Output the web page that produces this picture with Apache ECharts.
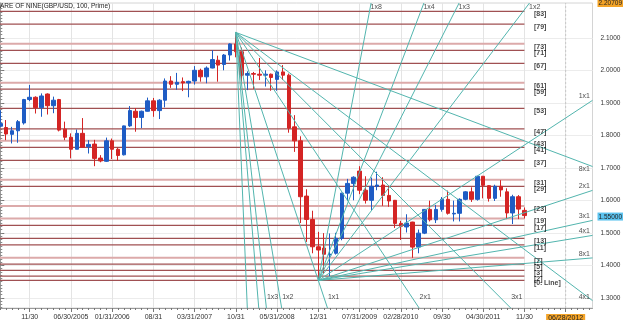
<!DOCTYPE html>
<html><head><meta charset="utf-8">
<script src="https://cdn.jsdelivr.net/npm/echarts@6/dist/echarts.min.js"></script>
<style>html,body{margin:0;padding:0;background:#fff}#c{width:625px;height:320px}</style>
</head><body><div id="c"></div>
<script>
// ---------------- data ----------------
const chartTitle = 'ARE OF NINE(GBP/USD, 100, Prime)';
const firstMonth = [2004, 6];      // bar dated 06/30/2004
const axisMonthCount = 101;         // axis runs to 10/2012
// monthly candles: [open, close, low, high]
const ohlc = [
[1.828,1.836,1.825,1.877],[1.824,1.804,1.785,1.847],[1.803,1.814,1.775,1.826],[1.814,1.842,1.777,1.847],
[1.838,1.910,1.833,1.912],[1.910,1.917,1.905,1.955],[1.917,1.885,1.867,1.920],[1.885,1.921,1.857,1.929],
[1.927,1.891,1.864,1.929],[1.891,1.908,1.868,1.919],[1.910,1.816,1.812,1.912],[1.819,1.794,1.785,1.842],
[1.794,1.757,1.729,1.806],[1.757,1.806,1.757,1.818],[1.806,1.763,1.762,1.853],[1.765,1.772,1.744,1.785],
[1.773,1.729,1.705,1.786],[1.730,1.721,1.717,1.739],[1.720,1.783,1.718,1.793],[1.783,1.757,1.727,1.790],
[1.757,1.738,1.721,1.762],[1.740,1.829,1.738,1.830],[1.829,1.876,1.826,1.890],[1.874,1.855,1.811,1.884],
[1.855,1.874,1.822,1.876],[1.874,1.906,1.873,1.916],[1.906,1.876,1.857,1.915],[1.876,1.908,1.850,1.911],
[1.908,1.967,1.886,1.975],[1.967,1.957,1.946,1.982],[1.957,1.963,1.940,1.992],[1.965,1.961,1.936,1.978],
[1.961,1.966,1.917,1.968],[1.967,2.000,1.956,2.013],[2.000,1.980,1.965,2.005],[1.980,2.007,1.960,2.012],
[2.007,2.033,2.006,2.062],[2.031,2.016,1.965,2.045],[2.018,2.047,2.000,2.050],[2.047,2.081,2.030,2.083],
[2.081,2.057,2.040,2.1166],[2.057,1.985,1.965,2.070],[1.985,1.990,1.939,1.997],[1.990,1.988,1.943,1.995],
[1.988,1.985,1.970,2.038],[1.985,1.988,1.950,2.000],[1.988,1.978,1.937,1.990],[1.972,1.995,1.937,2.000],
[1.995,1.985,1.970,2.016],[1.985,1.822,1.808,1.990],[1.826,1.783,1.749,1.862],[1.783,1.611,1.530,1.797],
[1.613,1.541,1.472,1.634],[1.541,1.457,1.437,1.568],[1.457,1.447,1.3535,1.503],[1.453,1.434,1.375,1.499],
[1.432,1.434,1.366,1.498],[1.437,1.483,1.433,1.500],[1.483,1.622,1.477,1.623],[1.622,1.652,1.599,1.666],
[1.652,1.671,1.600,1.674],[1.690,1.631,1.619,1.705],[1.631,1.600,1.590,1.674],[1.600,1.643,1.570,1.670],
[1.643,1.647,1.631,1.688],[1.647,1.615,1.583,1.671],[1.615,1.598,1.580,1.646],[1.600,1.529,1.515,1.601],
[1.529,1.520,1.478,1.537],[1.518,1.530,1.501,1.557],[1.533,1.456,1.423,1.534],[1.456,1.499,1.437,1.510],
[1.499,1.572,1.496,1.573],[1.572,1.540,1.535,1.599],[1.540,1.572,1.530,1.586],[1.572,1.603,1.565,1.610],
[1.603,1.560,1.556,1.630],[1.558,1.560,1.535,1.599],[1.560,1.603,1.535,1.606],[1.603,1.626,1.600,1.628],
[1.626,1.603,1.595,1.640],[1.603,1.674,1.599,1.675],[1.674,1.646,1.606,1.675],[1.645,1.606,1.596,1.647],
[1.606,1.643,1.598,1.648],[1.643,1.632,1.611,1.662],[1.626,1.561,1.542,1.637],[1.561,1.611,1.527,1.617],
[1.611,1.573,1.542,1.616],[1.569,1.553,1.544,1.578]
];
// x-axis tick labels (bar dates)
const tickMonths = ['2004-11','2005-06','2006-01','2006-08','2007-03','2007-10','2008-05','2008-12','2009-07','2010-02','2010-09','2011-04','2011-11'];
const tickLabels = ['11/30','06/30/2005','01/31/2006','08/31','03/31/2007','10/31','05/31/2008','12/31','07/31/2009','02/28/2010','09/30','04/30/2011','11/30'];
const cursorMonth = '2012-06';
const cursorLabel = '06/28/2012';
// y-axis
const yAxisMin = 1.26863, yAxisMax = 2.20709;
const yTickValues = [1.3,1.4,1.5,1.6,1.7,1.8,1.9,2.0,2.1];
const currentPrice = 1.55;
// square of nine levels
const levelNames = ['0. Line','2','3','5','7','11','13','17','19','23','29','31','37','41','43','47','53','59','61','67','71','73','79','83'];
const levelValues = [1.3535,1.3668,1.3843,1.4037,1.4231,1.4631,1.4828,1.5228,1.5443,1.5822,1.6428,1.6631,1.7228,1.7628,1.7831,1.8200,1.8828,1.9422,1.9615,2.0212,2.0612,2.0815,2.1422,2.1812];
// gann fans
const fanNames = ['1x8','1x4','1x3','1x2','1x1','2x1','3x1','4x1','8x1'];
const fanRatios = [8,4,3,2,1,1/2,1/3,1/4,1/8];
const topPivotMonth = '2007-10';
const bottomPivotMonth = '2008-12';
const bottomFanUnit = 0.0119; // price per month for 1x1 of the lower fan

// ---------------- styles ----------------
const FONT = 'Liberation Sans';
const lightLevels = ['7','19','23','31','43','61','73'];
const hiddenFanLabels = {top: ['1x8','1x4'], bottom: []};
const C_BULL = '#1f5cc4', C_BEAR = '#d42424', C_FAN = '#52b5ae';

// ---------------- build ----------------
const axisMonths = [];
for (let i = 0; i < axisMonthCount; i++) {
  const m = firstMonth[1] - 1 + i;
  const y = firstMonth[0] + Math.floor(m / 12);
  axisMonths.push(y + '-' + String(m % 12 + 1).padStart(2, '0'));
}
const idx = m => axisMonths.indexOf(m);
const xMin = -0.05, xMax = 100.56;
const lastIdx = ohlc.length - 1;
const tickIdx = tickMonths.map(idx);
const cursorIdx = idx(cursorMonth);
const labelByIdx = {};
tickIdx.forEach((k, i) => labelByIdx[k] = tickLabels[i]);
labelByIdx[cursorIdx] = '{hl|' + cursorLabel + '}';

const series = [];
series.push({type:'line', silent:true, symbol:'none', z:1, data:[[cursorIdx,yAxisMin],[cursorIdx,yAxisMax]],
  lineStyle:{color:'#c8c8c8', width:1, type:[2,2]}});
levelValues.forEach((v, i) => {
  const light = lightLevels.includes(levelNames[i]);
  series.push({type:'line', silent:true, symbol:'none', z:2, data:[[xMin, v],[lastIdx, v]],
    lineStyle:{color: light ? '#dcaaaa' : '#a05052', width: light ? 2 : 1.2}});
});
series.push({type:'scatter', silent:true, z:6, symbolSize:1, itemStyle:{color:'transparent'},
  data: levelValues.map((v, i) => ({value:[lastIdx, v], label:{formatter:'[' + levelNames[i] + ']'}})),
  label:{show:true, position:[0,0], offset:[10,3.5], align:'left', verticalAlign:'middle',
    fontFamily:FONT, fontSize:7, fontWeight:'bold', color:'#111'}});
series.push({type:'candlestick', z:3, barWidth:4,
  data: ohlc.map((d, i) => [i, d[0], d[1], d[2], d[3]]),
  encode:{x:0, y:[1,2,3,4]},
  itemStyle:{color:C_BULL, color0:C_BEAR, borderColor:C_BULL, borderColor0:C_BEAR, borderWidth:1}});
const topIdx = idx(topPivotMonth), botIdx = idx(bottomPivotMonth);
const topPrice = ohlc[topIdx][3], botPrice = ohlc[botIdx][2];
const topUnit = (topPrice - botPrice) / (botIdx - topIdx);
const fanDefs = [
  {key:'top', x0: topIdx, y0: topPrice, dir:-1, unit: topUnit},
  {key:'bottom', x0: botIdx, y0: botPrice, dir: 1, unit: bottomFanUnit}
];
const fanLabelData = [];
fanDefs.forEach(f => {
  fanNames.forEach((name, i) => {
    const slope = f.dir * f.unit * fanRatios[i];
    const tx = xMax - f.x0;
    const ty = ((slope < 0 ? yAxisMin : yAxisMax) - f.y0) / slope;
    const t = Math.min(tx, ty);
    const xe = f.x0 + t, ye = f.y0 + slope * t;
    series.push({type:'line', silent:true, symbol:'none', z:4, data:[[f.x0, f.y0],[xe, ye]],
      lineStyle:{color:C_FAN, width:1}});
    if (hiddenFanLabels[f.key].includes(name)) return;
    let lab;
    if (tx <= ty) {
      const nearBottom = ye < yAxisMin + 0.04;
      lab = {align:'right', verticalAlign: (f.dir > 0 || nearBottom) ? 'bottom' : 'top', offset:[-2, 0]};
    } else if (slope < 0) {
      lab = {align:'left', verticalAlign:'bottom', offset:[1,-7]};
    } else {
      lab = {align:'left', verticalAlign:'top', offset:[0,1]};
    }
    fanLabelData.push({value:[xe, ye], label:Object.assign({formatter:name}, lab)});
  });
});
series.push({type:'scatter', silent:true, z:7, symbolSize:1, itemStyle:{color:'transparent'}, data: fanLabelData,
  label:{show:true, position:[0,0], fontFamily:FONT, fontSize:7, color:'#222'}});

const minorY = []; for (let v = 127; v <= 220; v++) minorY.push(v / 100);
const allMonths = []; for (let i = 0; i < axisMonthCount; i++) allMonths.push(i);

const option = {
  animation:false,
  backgroundColor:'#fff',
  textStyle:{fontFamily:FONT},
  title:{text:chartTitle, left:0, top:3, padding:0, textStyle:{fontFamily:FONT, fontSize:6.5, fontWeight:'normal', color:'#222'}},
  grid:{left:0, right:32.5, top:3, bottom:12, show:true, borderColor:'#d4d4d4', borderWidth:1,
    containLabel:false, outerBoundsMode:'none'},
  xAxis:[{
    type:'value', position:'bottom', min:xMin, max:xMax,
    axisLine:{show:true, lineStyle:{color:'#9a9a9a'}},
    axisTick:{show:true, customValues:tickIdx.concat([cursorIdx]), length:4, lineStyle:{color:'#777'}},
    axisLabel:{customValues:tickIdx.concat([cursorIdx]), margin:6, fontSize:7, color:'#333', fontFamily:FONT,
      formatter: v => labelByIdx[Math.round(v)] || '',
      rich:{hl:{backgroundColor:'#f4a428', color:'#222', fontSize:7, padding:[1,2,0,2], fontFamily:FONT}}},
    splitLine:{show:true, lineStyle:{color:'#e4e4e4'}}
  },{
    type:'value', position:'bottom', min:xMin, max:xMax,
    axisLine:{show:false}, axisTick:{show:true, customValues:allMonths, length:2, lineStyle:{color:'#777'}},
    axisLabel:{show:false}, splitLine:{show:false}
  }],
  yAxis:[{
    type:'value', position:'right', min:yAxisMin, max:yAxisMax,
    axisLine:{show:true, lineStyle:{color:'#9a9a9a'}},
    axisTick:{show:true, customValues:yTickValues, length:4, lineStyle:{color:'#777'}},
    axisLabel:{customValues:yTickValues.concat([currentPrice, yAxisMax]), margin:5, fontSize:6.5, color:'#333', fontFamily:FONT,
      align:'left',
      formatter: v => {
        if (Math.abs(v - yAxisMax) < 1e-9) return '{mx|' + v.toFixed(5) + '}';
        if (Math.abs(v - currentPrice) < 1e-9) return '{cur|' + v.toFixed(5) + '}';
        return '{n|' + v.toFixed(4) + '}';
      },
      rich:{
        n:{color:'#333', fontSize:6.5, padding:[0,0,0,3], fontFamily:FONT},
        mx:{backgroundColor:'#f4a428', color:'#222', fontSize:6.5, padding:[1,1,0,1], fontFamily:FONT},
        cur:{backgroundColor:'#5cc3ef', color:'#222', fontSize:6.5, padding:[1,1,0,1], fontFamily:FONT}
      }},
    splitLine:{show:true, lineStyle:{color:'#ececec'}}
  },{
    type:'value', position:'right', min:yAxisMin, max:yAxisMax,
    axisLine:{show:false}, axisTick:{show:true, customValues:minorY, length:2, lineStyle:{color:'#888'}},
    axisLabel:{show:false}, splitLine:{show:false}
  }],
  series: series
};
const chart = echarts.init(document.getElementById('c'), null, {renderer:'canvas'});
chart.setOption(option);
</script></body></html>
